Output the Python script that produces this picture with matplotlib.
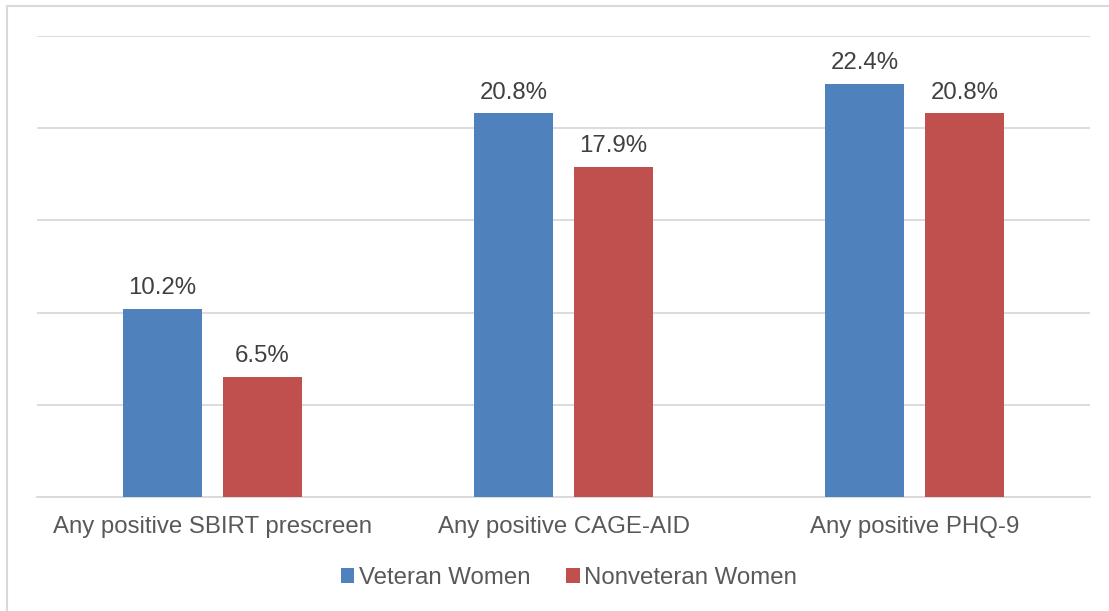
import matplotlib.pyplot as plt
from matplotlib.patches import Rectangle
import numpy as np

plt.rcParams['font.family'] = ['Liberation Sans', 'DejaVu Sans']

categories = ["Any positive SBIRT prescreen", "Any positive CAGE-AID", "Any positive PHQ-9"]
veteran = [10.2, 20.8, 22.4]
nonveteran = [6.5, 17.9, 20.8]
series_names = ["Veteran Women", "Nonveteran Women"]

blue = "#4f81bd"
red = "#c0504d"
text_color = "#595959"
grid_color = "#d9d9d9"
fs = 17.3

fig = plt.figure(figsize=(11.09, 6.11), dpi=100)
W, H = 1109, 611
ax = fig.add_axes([37 / W, 1 - 497 / H, (1090 - 37) / W, (497 - 36) / H])

x = np.arange(len(categories))
bw = 0.225
off = 0.1425
b1 = ax.bar(x - off, veteran, bw, color=blue, label=series_names[0], zorder=3)
b2 = ax.bar(x + off, nonveteran, bw, color=red, label=series_names[1], zorder=3)

for bars, vals in ((b1, veteran), (b2, nonveteran)):
    for rect, v in zip(bars, vals):
        ax.annotate(f"{v:.1f}%", (rect.get_x() + rect.get_width() / 2, v),
                    xytext=(0, 7), textcoords="offset points",
                    ha="center", va="bottom", fontsize=fs, color="#404040")

ax.set_xlim(-0.5, 2.5)
ax.set_ylim(0, 25)
ax.set_yticks(np.arange(0, 26, 5))
ax.yaxis.grid(True, color=grid_color, linewidth=1.3, zorder=0)
ax.tick_params(axis="y", left=False, labelleft=False)
ax.tick_params(axis="x", bottom=False, labelsize=fs, labelcolor=text_color, pad=10)
ax.set_xticks(x)
ax.set_xticklabels(categories)
for s in ("top", "right", "left"):
    ax.spines[s].set_visible(False)
ax.spines["bottom"].set_color(grid_color)
ax.spines["bottom"].set_linewidth(1.3)

leg = fig.legend(handles=[b1, b2], labels=series_names, loc="center",
                 bbox_to_anchor=(569 / W, 1 - 578 / H), ncol=2, frameon=False,
                 fontsize=fs, handlelength=0.55, handleheight=0.55,
                 handletextpad=0.2, columnspacing=1.5)
for t in leg.get_texts():
    t.set_color(text_color)

fig.patches.append(Rectangle((7 / W, -0.05), 1.0, 1 - 6 / H + 0.05,
                             transform=fig.transFigure, fill=False,
                             edgecolor=grid_color, linewidth=1.5))

fig.savefig("out.png", dpi=100, facecolor="white")
